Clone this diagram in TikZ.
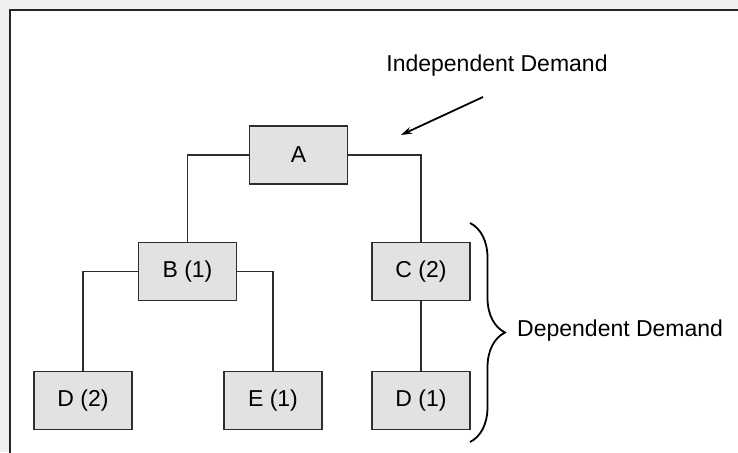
\documentclass[tikz,border=0pt]{standalone}
\usepackage{fontspec}
\setmainfont{Liberation Sans}
\usetikzlibrary{arrows.meta, positioning, decorations.pathreplacing}

\definecolor{boxfill}{HTML}{E2E2E2}
\definecolor{inkgray}{HTML}{2E2E2E}

\begin{document}
\begin{tikzpicture}[
x=1pt, y=-1pt,
font=\fontsize{23}{27}\selectfont,
item/.style={draw=inkgray, line width=1.4pt, fill=boxfill, minimum width=98pt, minimum height=58pt, inner sep=0pt},
link/.style={draw=inkgray, line width=1.6pt},
arrow/.style={-{Stealth[length=11pt, width=7pt]}, line width=1.8pt, draw=black}
]
\useasboundingbox (0,0) rectangle (738,452);
\fill[gray!12] (0,0) rectangle (738,452);
\begin{scope}
\clip (0,0) rectangle (738,452);
\draw[fill=white, line width=2pt, draw=black!85] (10,10) rectangle (760,480);
\end{scope}

\node[item] (a) at (298.5,155) {A};
\node[item] (b) at (187.5,271.5) {B (1)};
\node[item] (c) at (421,271.5) {C (2)};
\node[item] (d2) at (83,400.5) {D (2)};
\node[item] (e) at (273,400.5) {E (1)};
\node[item] (d1) at (421,400.5) {D (1)};

\draw[link] (a.west) -| (b.north);
\draw[link] (a.east) -| (c.north);
\draw[link] (b.west) -| (d2.north);
\draw[link] (b.east) -| (e.north);
\draw[link] (c) -- (d1);

% independent demand arrow
\node (indep) at (497,66) {Independent Demand};
\coordinate (arrowtail) at (483,97);
\coordinate (arrowtip) at (401,135);
\draw[arrow] (arrowtail) -- (arrowtip);

% brace for dependent demand
\coordinate (bracetop) at (470,223);
\coordinate (bracebot) at (470,442);
\draw[line width=1.8pt, decorate, decoration={brace, amplitude=35pt}] (bracetop) -- (bracebot);
\node[anchor=west, inner sep=0pt] (dep) at (517,331) {Dependent Demand};
\end{tikzpicture}
\end{document}
